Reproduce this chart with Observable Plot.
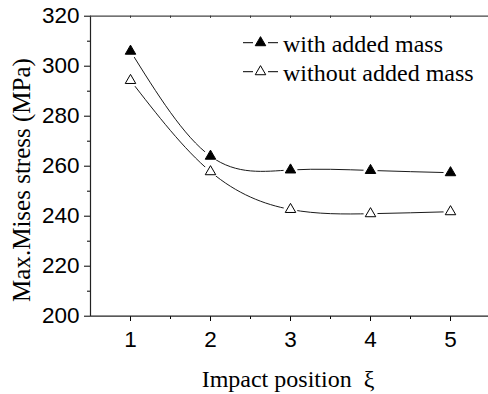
<!DOCTYPE html>
<html>
<head>
<meta charset="utf-8">
<script src="https://cdn.jsdelivr.net/npm/d3@7"></script>
<script src="https://cdn.jsdelivr.net/npm/@observablehq/plot@0.6"></script>
<style>
  html, body { margin: 0; padding: 0; background: #fff; overflow: hidden; }
  #wrap { position: relative; width: 488px; height: 394px; }
  .lbl { position: absolute; font-family: "Liberation Serif", "Times New Roman", serif; font-size: 24px; color: #000; white-space: nowrap; }
</style>
</head>
<body>
<div id="wrap"></div>
<script>
// Data
const positions = [1, 2, 3, 4, 5];
const withMass = [306, 264, 258.5, 258.3, 257.4];
const withoutMass = [294.3, 257.8, 242.7, 241.0, 241.8];
const seriesNames = ["with added mass", "without added mass"];
const yMajor = [200, 220, 240, 260, 280, 300, 320];
const yMinor = [210, 230, 250, 270, 290, 310];
const xMajor = [1, 2, 3, 4, 5];
const xMinor = [1.5, 2.5, 3.5, 4.5, 5.5];

const rows = [];
positions.forEach((p, i) => {
  rows.push({x: p, y: withMass[i], s: seriesNames[0]});
  rows.push({x: p, y: withoutMass[i], s: seriesNames[1]});
});

const sans = "'Liberation Sans', Arial, sans-serif";
const topTicks = [0.5, ...xMajor, ...xMinor].sort((a, b) => a - b);

const chart = Plot.plot({
  width: 488,
  height: 394,
  marginLeft: 90,
  marginRight: 0,
  marginTop: 16,
  marginBottom: 78,
  x: {domain: [0.5, 5.5], range: [90, 490]},
  y: {domain: [200, 320], range: [315.7, 15.7]},
  style: {background: "#fff", color: "#000"},
  marks: [
    Plot.axisY({ticks: yMajor, tickSize: 6, tickPadding: 5, fontSize: 22.5, fontFamily: sans, label: null, tickFormat: "d"}),
    Plot.axisY({ticks: yMinor, tickSize: 3, text: null, label: null}),
    Plot.axisX({ticks: xMajor, tickSize: 5, tickPadding: 10, fontSize: 22.5, fontFamily: sans, label: null, tickFormat: "d"}),
    Plot.axisX({ticks: xMinor, tickSize: 3, text: null, label: null}),
    Plot.ruleX(topTicks, {x: d => d, y1: 320, y2: 319.2, stroke: "#000"}),
    Plot.ruleX([0.5], {stroke: "#222", strokeWidth: 1.2}),
    Plot.ruleY([200], {stroke: "#222", strokeWidth: 1.2}),
    Plot.ruleY([320], {stroke: "#444", strokeWidth: 1.2}),
    Plot.line(rows, {x: "x", y: "y", z: "s", curve: "natural", stroke: "#000", strokeWidth: 0.9}),
    Plot.dot(rows, {x: "x", y: "y", r: 7, fill: "#fff", stroke: "none"}),
    Plot.dot(rows, {x: "x", y: "y", symbol: "triangle", r: 3.9,
      fill: d => d.s === seriesNames[0] ? "#000" : "#fff", stroke: "#000", strokeWidth: 1})
  ]
});

const wrap = document.getElementById("wrap");
chart.style.position = "absolute";
chart.style.left = "0px";
chart.style.top = "0px";
wrap.appendChild(chart);

// Axis titles
const yl = document.createElement("div");
yl.className = "lbl";
yl.style.fontSize = "25px";
yl.textContent = "Max.Mises stress (MPa)";
yl.style.left = "22px";
yl.style.top = "180px";
yl.style.transform = "translate(-50%, -50%) rotate(-90deg)";
wrap.appendChild(yl);

const xl = document.createElement("div");
xl.className = "lbl";
xl.innerHTML = "Impact position&nbsp;&nbsp;ξ";
xl.style.left = "288px";
xl.style.top = "379px";
xl.style.transform = "translate(-50%, -50%)";
wrap.appendChild(xl);

// Legend
const ns = "http://www.w3.org/2000/svg";
const leg = document.createElementNS(ns, "svg");
leg.setAttribute("width", 488);
leg.setAttribute("height", 394);
leg.style.position = "absolute";
leg.style.left = "0px";
leg.style.top = "0px";
leg.style.pointerEvents = "none";
const fills = ["#000", "#fff"];
seriesNames.forEach((name, i) => {
  const cy = 42.7 + i * 29;
  const g = document.createElementNS(ns, "g");
  g.innerHTML =
    `<line x1="243" x2="253" y1="${cy}" y2="${cy}" stroke="#000" stroke-width="1"/>` +
    `<line x1="268" x2="278" y1="${cy}" y2="${cy}" stroke="#000" stroke-width="1"/>` +
    `<path transform="translate(260.5,${cy})" d="${d3.symbol(d3.symbolTriangle, Math.PI * 3.9 * 3.9)()}" fill="${fills[i]}" stroke="#000" stroke-width="1"/>` +
    `<text x="283" y="${cy + 4}" font-family="'Liberation Serif', 'Times New Roman', serif" font-size="24" dominant-baseline="middle" fill="#000">${name}</text>`;
  leg.appendChild(g);
});
wrap.appendChild(leg);
</script>
</body>
</html>
